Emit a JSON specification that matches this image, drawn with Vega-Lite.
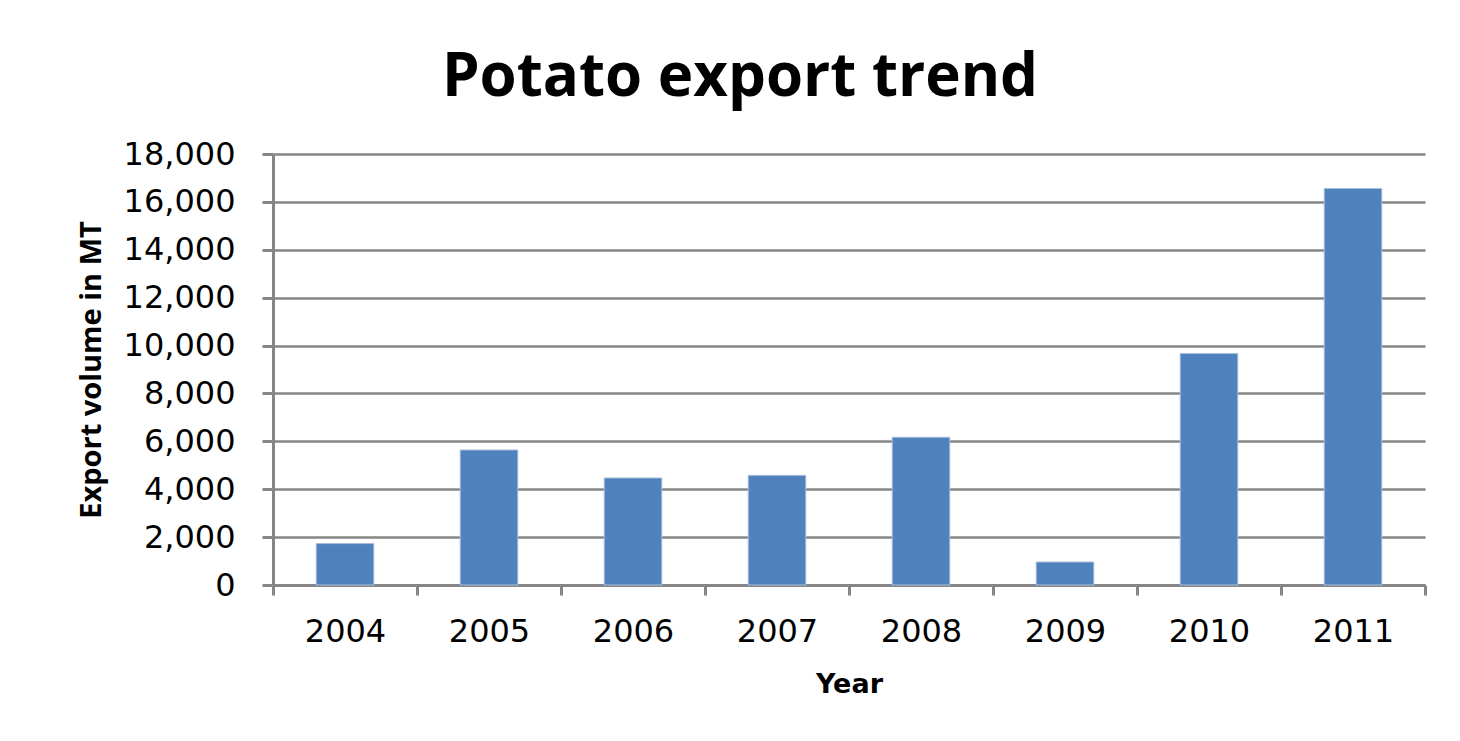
{
  "$schema": "https://vega.github.io/schema/vega-lite/v6.json",
  "autosize": {"type": "none"},
  "width": 1152,
  "height": 431,
  "padding": {"left": 273, "top": 154, "right": 35, "bottom": 156},
  "background": "white",
  "title": {
    "text": "Potato export trend",
    "font": "Open Sans",
    "fontWeight": "bold",
    "fontSize": 60,
    "color": "black",
    "anchor": "middle",
    "baseline": "alphabetic",
    "offset": 57,
    "dx": -109,
    "dy": 75
  },
  "data": {
    "values": [
      {"Year": "2004", "Volume": 1730},
      {"Year": "2005", "Volume": 5640},
      {"Year": "2006", "Volume": 4470},
      {"Year": "2007", "Volume": 4580},
      {"Year": "2008", "Volume": 6170},
      {"Year": "2009", "Volume": 960},
      {"Year": "2010", "Volume": 9670},
      {"Year": "2011", "Volume": 16560}
    ]
  },
  "mark": {"type": "bar", "color": "#4F81BD", "stroke": "#a9bfdd", "strokeWidth": 1, "width": {"band": 0.4}},
  "encoding": {
    "x": {
      "field": "Year",
      "type": "ordinal",
      "scale": {"paddingInner": 0, "paddingOuter": 0},
      "axis": {
        "title": "Year",
        "titleFont": "DejaVu Sans",
        "titleFontWeight": "bold",
        "titleFontSize": 27,
        "titleColor": "black",
        "titleBaseline": "alphabetic",
        "titleY": 107,
        "labelFont": "DejaVu Sans",
        "labelFontSize": 32,
        "labelColor": "black",
        "labelAngle": 0,
        "labelBaseline": "alphabetic",
        "labelPadding": 46,
        "tickBand": "extent",
        "tickSize": 10,
        "tickColor": "#868686",
        "tickWidth": 3,
        "domainColor": "#868686",
        "domainWidth": 3,
        "grid": false
      }
    },
    "y": {
      "field": "Volume",
      "type": "quantitative",
      "scale": {"domain": [0, 18000]},
      "axis": {
        "title": "Export volume in MT",
        "titleFont": "Open Sans",
        "titleFontWeight": "bold",
        "titleFontSize": 29,
        "titleColor": "black",
        "titleBaseline": "alphabetic",
        "titleX": -173,
        "values": [0, 2000, 4000, 6000, 8000, 10000, 12000, 14000, 16000, 18000],
        "format": ",.0f",
        "labelFont": "DejaVu Sans",
        "labelFontSize": 32,
        "labelColor": "black",
        "labelPadding": 27,
        "tickSize": 11,
        "tickColor": "#868686",
        "tickWidth": 3,
        "domainColor": "#868686",
        "domainWidth": 3,
        "grid": true,
        "gridColor": "#868686",
        "gridWidth": 2.5
      }
    }
  },
  "config": {"view": {"stroke": null}}
}
